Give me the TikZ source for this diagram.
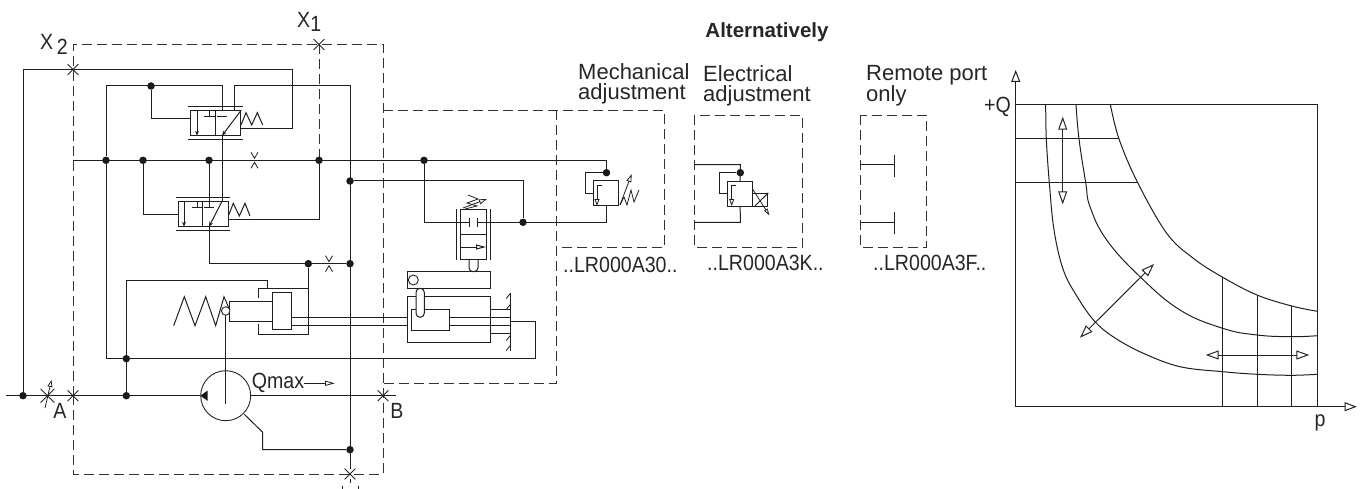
\documentclass[tikz,border=0pt]{standalone}
\usepackage{fontspec}
\setmainfont{Liberation Sans}
\newfontfamily\narrowfont[FakeStretch=0.89]{Liberation Sans}
\usetikzlibrary{arrows.meta,shapes.misc}
\tikzset{
    wire/.style={line width=1pt,color=black!88},
    frame/.style={line width=0.9pt,color=black!80,dash pattern=on 10pt off 5pt},
    dot/.style={circle,fill=black!90,inner sep=0pt,minimum size=7.5pt},
    starMark/.style={cross out,draw=black!85,line width=0.8pt,inner sep=0pt,minimum size=10pt},
    valveBox/.style={rectangle,draw=black!88,line width=1pt,inner sep=0pt},
    ballMark/.style={circle,draw=black!85,fill=white,line width=0.9pt,inner sep=0pt,minimum size=8.5pt},
    caption/.style={font=\fontsize{22}{20}\selectfont,text=black!85,align=left,inner sep=0pt},
    tag/.style={font=\narrowfont\fontsize{22}{22}\selectfont,text=black!85,inner sep=0pt},
    openTip/.style={-{Triangle[open,length=12pt,width=9pt]}},
    smallTip/.style={-{Triangle[open,length=10pt,width=5pt]}},
    bothTips/.style={{Triangle[open,length=13pt,width=9pt]}-{Triangle[open,length=13pt,width=9pt]},line width=1pt,color=black!85},
    flowTip/.style={-{Stealth[length=5pt,width=4pt]}}
}
\begin{document}
\begin{tikzpicture}[x=1pt,y=-1pt]
    \useasboundingbox (0,0) rectangle (1364,489);

    % Dashed frames
    \draw[frame] (73,396) -- (73,44.5) -- (383,44.5) -- (383,474) -- (73,474) -- (73,396);
    \draw[frame] (319,44.5) -- (319,160);
    \draw[frame] (383,110.5) -- (664,110.5) -- (664,247) -- (556,247);
    \draw[frame] (556,110.5) -- (556,383) -- (383,383);
    \draw[frame] (694.3,115) rectangle (802.3,247.3);
    \draw[frame] (860,115) rectangle (926,247.3);

    % Ports and junctions
    \node[starMark] (x2Cross) at (73,69.5) {};
    \node[starMark] (x1Cross) at (319,44.5) {};
    \node[starMark] (aCross) at (73,395.7) {};
    \node[starMark] (bCross) at (383,395.7) {};
    \node[starMark] (drainCross) at (350,474) {};
    \node[dot] (inDot) at (23,395.7) {};
    \node[dot] (topDot) at (151,86) {};
    \node[dot] (mainDot1) at (106,160.3) {};
    \node[dot] (mainDot2) at (143,160.3) {};
    \node[dot] (mainDot3) at (209,160.3) {};
    \node[dot] (mainDot4) at (319,160.3) {};
    \node[dot] (mainDot5) at (424,160.3) {};
    \node[dot] (tankDot1) at (350,181) {};
    \node[dot] (tankDot2) at (350,263.7) {};
    \node[dot] (tankDot3) at (350,449.7) {};
    \node[dot] (servoDot) at (308.3,263.7) {};
    \node[dot] (returnDot) at (126.3,358.7) {};
    \node[dot] (pumpDot) at (126.3,395.7) {};
    \node[dot] (pilotDot) at (523,222.3) {};
    \node[dot] (mechDot) at (606.5,172.7) {};
    \node[dot] (elecDot) at (740.3,172.7) {};
    \coordinate (inPos) at (6,395.7);
    \coordinate (outPos) at (396,395.7);

    % Pump
    \node[circle,draw=black!85,line width=0.9pt,inner sep=0pt,minimum size=50pt] (pump) at (225.7,395.7) {};
    \fill[black!90] (pump.west) -- (207.7,390.5) -- (207.7,400.9) -- cycle;
    \draw[wire,line width=1.2pt] (inPos) -- (pump.west);
    \draw[wire,line width=1.2pt] (pump.east) -- (outPos);
    \draw[wire] (244.3,414.3) -- (262.7,432.3) -- (262.7,449.7) -- (tankDot3);
    \draw[wire] (225.7,315) -- (225.7,404);

    % Adjustable orifice on the A line
    \node[starMark,minimum size=13pt] (aOrifice) at (47.5,395.7) {};
    \draw[wire,line width=0.8pt,-{Triangle[open,length=7pt,width=5pt]}] (45,408) -- (51.5,380);

    % Long lines
    \draw[wire] (inDot) -- (23,69.5) -- (292,69.5) -- (292,128.7) -- (240.7,128.7);
    \draw[wire] (73,160.3) -- (606.5,160.3) -- (mechDot);
    \draw[wire] (mainDot1) -- (106,86) -- (222,86) -- (222,110.7);
    \draw[wire] (topDot) -- (151,119) -- (190.7,119);
    \draw[wire] (234,110.7) -- (234,86) -- (350,86) -- (drainCross);
    \draw[wire] (drainCross) -- (350,483);
    \draw[wire] (mainDot1) -- (106,358.7) -- (535.7,358.7) -- (535.7,321.3) -- (510.7,321.3);
    \draw[wire] (pumpDot) -- (126.3,280) -- (267,280) -- (267,288.7);
    \draw[wire] (mainDot2) -- (143,214) -- (178,214);
    \draw[wire] (mainDot3) -- (209,207.7);
    \draw[wire] (228,219.7) -- (319,219.7) -- (mainDot4);
    \draw[wire] (209,226.7) -- (209,263.7) -- (tankDot2);
    \draw[wire] (tankDot1) -- (523,181) -- (pilotDot);
    \draw[wire] (mainDot5) -- (424,222.3) -- (469,222.3);
    \draw[wire] (477.5,222.3) -- (606.5,222.3) -- (606.5,206);
    \draw[wire] (servoDot) -- (308.3,334) -- (258.7,334) -- (258.7,324.3);
    \draw[wire] (258.7,298) -- (258.7,288.7) -- (308.3,288.7);

    % Bottom stub of the drain port
    \draw[wire] (342,486) -- (342,489);
    \draw[wire] (358,486) -- (358,489);

    % Orifices
    \foreach \ox/\oy in {254.5/160.3, 329/263.7} {
        \draw[wire,line width=0.8pt] (\ox-3.5,\oy-8) -- (\ox,\oy-2) -- (\ox+3.5,\oy-8);
        \draw[wire,line width=0.8pt] (\ox-3.5,\oy+8) -- (\ox,\oy+2) -- (\ox+3.5,\oy+8);
    }

    % Upper valve
    \node[valveBox,minimum width=50pt,minimum height=25pt] (valveUp) at (215.7,123.2) {};
    \draw[wire] (215.7,110.7) -- (215.7,135.7);
    \draw[wire] (188,106.7) -- (243,106.7);
    \draw[wire] (188,139.7) -- (243,139.7);
    \draw[wire,flowTip] (197,110.7) -- (197,135.7);
    \draw[wire] (209.3,110.7) -- (209.3,116.7) (203.5,116.7) -- (215,116.7);
    \draw[wire] (217,116.7) -- (227,116.7);
    \draw[wire,flowTip] (valveUp.north east) -- (222,135.7);
    \draw[wire] (222,135.7) -- (222,201.3);
    \draw[wire] (241,125) -- (246,112.7) -- (251.7,125) -- (257.3,112.7) -- (262.7,125);

    % Lower valve
    \node[valveBox,minimum width=50pt,minimum height=25.4pt] (valveLow) at (203,214) {};
    \draw[wire,line width=1.4pt] (202.7,201.3) -- (202.7,226.7);
    \draw[wire] (176,197.3) -- (230,197.3);
    \draw[wire] (176,230.7) -- (230,230.7);
    \draw[wire,flowTip] (184,201.3) -- (184,226.7);
    \draw[wire] (197,201.3) -- (197,207.7) (192,207.7) -- (202,207.7);
    \draw[wire] (204,207.7) -- (214,207.7);
    \draw[wire,flowTip] (222,201.3) -- (209,226.7);
    \draw[wire] (228.3,216) -- (233.3,203.3) -- (239.3,216) -- (245,203.3) -- (250,216);

    % Servo with spring
    \draw[wire] (173.7,325.7) -- (184.3,296.7) -- (195,325.7) -- (205.7,296.7) -- (215.7,325.7) -- (224,296.7) -- (229.7,310);
    \node[valveBox,minimum width=19.3pt,minimum height=37.7pt] (servoPiston) at (282.3,311.1) {};
    \draw[wire] (272.7,301) -- (229.7,301) -- (229.7,321.7) -- (272.7,321.7);
    \node[ballMark] (servoBall) at (225.7,311) {};
    \draw[wire] (292,317.3) -- (407.3,317.3);
    \draw[wire] (292,325.7) -- (407.3,325.7);

    % Pilot valve
    \node[valveBox,minimum width=25.7pt,minimum height=50pt] (pilotValve) at (473.8,234.3) {};
    \draw[wire] (461,234.3) -- (486.7,234.3);
    \draw[wire,smallTip] (461,247) -- (486,247);
    \draw[wire] (456.7,209) -- (456.7,260);
    \draw[wire] (490,209) -- (490,260);
    \draw[wire] (469,218) -- (469,227);
    \draw[wire] (477.5,218) -- (477.5,227);
    \draw[wire,rounded corners=4pt] (469,259.3) -- (469,271.7) -- (478,271.7) -- (478,259.3);
    \draw[wire,line width=0.8pt] (468,195) -- (478,199) -- (467,203) -- (477,206) -- (465,209);
    \draw[wire,line width=0.8pt,-{Triangle[open,length=8pt,width=5pt]}] (463,208) -- (487,199);

    % Lever and main cylinder
    \node[valveBox,minimum width=83.4pt,minimum height=16.6pt] (leverBar) at (449,280) {};
    \node[ballMark,minimum size=10pt] (leverBall) at (413.3,280) {};
    \node[valveBox,minimum width=83.4pt,minimum height=45.6pt] (mainCyl) at (449,319.5) {};
    \node[valveBox,minimum width=37.7pt,minimum height=21pt] (mainPiston) at (430.2,319.5) {};
    \draw[wire,fill=white,rounded corners=4pt] (416,317.3) -- (416,288.3) -- (424.3,288.3) -- (424.3,317.3) -- cycle;
    \draw[wire] (449,317.3) -- (510.7,317.3);
    \draw[wire] (449,325.7) -- (510.7,325.7);
    \draw[wire] (490.7,309) -- (510.7,309);
    \draw[wire] (490.7,333.5) -- (510.7,333.5);
    \draw[wire] (510.7,292.7) -- (510.7,350.7);
    \foreach \hy in {293,304,335,345} {
        \draw[wire,line width=0.8pt] (510.7,\hy) -- (506.3,\hy+5.5);
    }

    % Mechanical adjustment
    \node[valveBox,minimum width=25.4pt,minimum height=25.3pt] (mechValve) at (606,193.3) {};
    \draw[wire] (mechDot) -- (585,172.7) -- (585,193.3) -- (593.3,193.3);
    \draw[wire,line width=0.8pt] (602,185.5) -- (597,185.5);
    \draw[wire,line width=0.8pt,-{Triangle[open,length=7pt,width=5pt]}] (597,185.5) -- (597,206);
    \draw[wire,line width=0.8pt] (620,205) -- (624,197) -- (627,205) -- (631,190) -- (634,202) -- (639,190);
    \draw[wire,line width=0.8pt,-{Triangle[open,length=8pt,width=5pt]}] (620,205) -- (631.7,174);

    % Electrical adjustment
    \node[valveBox,minimum width=25pt,minimum height=24.3pt] (elecValve) at (740.2,193.9) {};
    \draw[wire] (694.3,164.7) -- (740.3,164.7) -- (elecValve.north);
    \draw[wire] (elecDot) -- (719.3,172.7) -- (719.3,193.3) -- (727.7,193.3);
    \draw[wire] (elecValve.south) -- (740.3,222.3) -- (694.3,222.3);
    \draw[wire,line width=0.8pt] (736,185) -- (731.7,185);
    \draw[wire,line width=0.8pt,-{Triangle[open,length=7pt,width=5pt]}] (731.7,185) -- (731.7,206);
    \node[valveBox,minimum width=15pt,minimum height=12.7pt] (elecCoil) at (760.2,199.7) {};
    \draw[wire] (elecCoil.north east) -- (755,206);
    \draw[wire,line width=0.8pt,-{Triangle[open,length=7pt,width=4pt]}] (752.7,189.3) -- (769.5,215.5);

    % Remote port only
    \draw[wire] (860,164.7) -- (894,164.7);
    \draw[wire] (894,155) -- (894,176.7);
    \draw[wire] (860,222.3) -- (894,222.3);
    \draw[wire] (894,212.3) -- (894,234);

    % Graph
    \coordinate (origin) at (1015.7,406.7);
    \draw[wire,openTip] (origin) -- (1015.7,70);
    \draw[wire,openTip] (origin) -- (1356.7,406.7);
    \draw[wire] (1015.7,104.3) -- (1317.3,104.3) -- (1317.3,406.7);
    \draw[wire] (1015.7,139) -- (1119,139);
    \draw[wire] (1015.7,182.7) -- (1137.7,182.7);
    \draw[wire] (1222.7,277.3) -- (1222.7,406.7);
    \draw[wire] (1257,295) -- (1257,406.7);
    \draw[wire] (1291.7,306) -- (1291.7,406.7);
    \draw[wire] plot[smooth,tension=.6] coordinates {(1110.3,104.3) (1119,139) (1137.7,182.7) (1166.7,233.3) (1193.3,258.3) (1222.7,277.3) (1257,295) (1291.7,306) (1317.3,311.3)};
    \draw[wire] plot[smooth,tension=.7] coordinates {(1076,104.3) (1079,139) (1085.7,182.7) (1090,206.7) (1106.7,240) (1140,276.7) (1180,310) (1222.7,328.3) (1257,335) (1291.7,336.7) (1317.3,335.7)};
    \draw[wire] plot[smooth,tension=.6] coordinates {(1045.7,104.3) (1046.3,139) (1049.3,182.7) (1054,230) (1063.3,270) (1078,298) (1095,321.7) (1115,338) (1143.3,353.3) (1180,366.7) (1222.7,371.7) (1257,374.3) (1291.7,375.3) (1317.3,374.3)};
    \draw[bothTips] (1062.7,116.7) -- (1062.7,204.3);
    \draw[bothTips] (1080,337.7) -- (1154,264);
    \draw[bothTips] (1205.7,355) -- (1309.3,355);

    % Labels
    \node[tag,anchor=base west] (x2Label) at (40,50) {X\,\raisebox{-5pt}{2}};
    \node[tag,anchor=base west] (x1Label) at (297,28) {X\raisebox{-4pt}{1}};
    \node[tag,anchor=base] (aLabel) at (60,418) {A};
    \node[tag,anchor=base] (bLabel) at (397,418) {B};
    \node[tag,anchor=base west] (qmaxLabel) at (251.7,388) {Qmax};
    \draw[wire,line width=0.8pt,smallTip] (qmaxLabel.base east) ++(0,-4.7) -- (335,383.3);
    \node[tag,anchor=base east] (qLabel) at (1011,112.7) {+Q};
    \node[tag,anchor=base] (pLabel) at (1320,426) {p};
    \node[font=\bfseries\fontsize{20.5}{20}\selectfont,text=black!85,inner sep=0pt,anchor=base] (altLabel) at (767,38) {Alternatively};
    \node[caption,anchor=north west] (mechLabel) at (578,63) {Mechanical\\adjustment};
    \node[caption,anchor=north west] (elecLabel) at (703,65) {Electrical\\adjustment};
    \node[caption,anchor=north west] (remoteLabel) at (866,65) {Remote port\\only};
    \node[tag,anchor=base west] (mechCode) at (563,272) {..LR000A30..};
    \node[tag,anchor=base west] (elecCode) at (707,270) {..LR000A3K..};
    \node[tag,anchor=base west] (remoteCode) at (873,270) {..LR000A3F..};
\end{tikzpicture}
\end{document}
